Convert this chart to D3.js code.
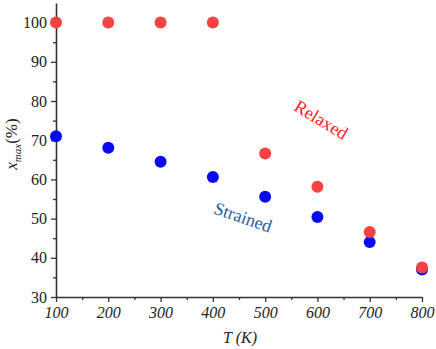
<!DOCTYPE html>
<html>
<head>
<meta charset="utf-8">
<script src="https://cdn.jsdelivr.net/npm/d3@7"></script>
<style>
  body { margin: 0; background: #fff; }
  svg text { font-family: "Liberation Serif", "Tinos", "DejaVu Serif", serif; }
</style>
</head>
<body>
<div id="chart"></div>
<script>
// data
const temps = [100, 200, 300, 400, 500, 600, 700, 800];
const strained = [71.0, 68.1, 64.5, 60.6, 55.6, 50.4, 44.0, 37.0];
const relaxed = [100, 100, 100, 100, 66.6, 58.1, 46.6, 37.5];
const xTicks = [100, 200, 300, 400, 500, 600, 700, 800];
const yTicks = [30, 40, 50, 60, 70, 80, 90, 100];

const width = 436, height = 349;
const margin = { top: 3, right: 14, bottom: 52, left: 56 };
const serif = "'Liberation Serif', Tinos, 'DejaVu Serif', serif";

const xScale = d3.scaleLinear().domain([100, 800]).range([margin.left, width - margin.right]);
const yScale = d3.scaleLinear().domain([30, 105]).range([height - margin.bottom, margin.top]);

const svg = d3.select("#chart").append("svg")
    .attr("width", width)
    .attr("height", height)
    .attr("font-family", serif);

// minor ticks (x)
const xMinor = d3.range(150, 800, 100);
svg.append("g")
    .attr("transform", `translate(0,${yScale(30)})`)
    .call(d3.axisBottom(xScale).tickValues(xMinor).tickSize(3).tickFormat(""))
    .call(g => g.select(".domain").remove())
    .selectAll("line").attr("stroke", "#333").attr("stroke-width", 1.3);

// minor ticks (y)
const yMinor = d3.range(35, 105, 10);
svg.append("g")
    .attr("transform", `translate(${xScale(100)},0)`)
    .call(d3.axisLeft(yScale).tickValues(yMinor).tickSize(3).tickFormat(""))
    .call(g => g.select(".domain").remove())
    .selectAll("line").attr("stroke", "#333").attr("stroke-width", 1.3);

// x axis
const xAxis = svg.append("g")
    .attr("transform", `translate(0,${yScale(30)})`)
    .call(d3.axisBottom(xScale).tickValues(xTicks).tickSize(5).tickSizeOuter(0).tickPadding(5))
    .attr("font-family", serif);
xAxis.select(".domain").attr("stroke", "#333").attr("stroke-width", 1.6);
xAxis.selectAll(".tick line").attr("stroke", "#333").attr("stroke-width", 1.3);
xAxis.selectAll(".tick text")
    .attr("fill", "#222")
    .attr("font-size", 16)
    .attr("font-style", "italic");

// y axis
const yAxis = svg.append("g")
    .attr("transform", `translate(${xScale(100)},0)`)
    .call(d3.axisLeft(yScale).tickValues(yTicks).tickSize(5).tickSizeOuter(0).tickPadding(4))
    .attr("font-family", serif);
yAxis.select(".domain").attr("stroke", "#333").attr("stroke-width", 1.6);
yAxis.selectAll(".tick line").attr("stroke", "#333").attr("stroke-width", 1.3);
yAxis.selectAll(".tick text")
    .attr("fill", "#222")
    .attr("font-size", 16);

// axis titles
svg.append("text")
    .attr("x", (xScale(100) + xScale(800)) / 2 + 1)
    .attr("y", 343)
    .attr("text-anchor", "middle")
    .attr("fill", "#222")
    .attr("font-size", 16)
    .attr("font-style", "italic")
    .text("T (K)");

const yTitle = svg.append("text")
    .attr("transform", "translate(17,144) rotate(-90)")
    .attr("text-anchor", "middle")
    .attr("fill", "#222")
    .attr("font-size", 17);
yTitle.append("tspan").attr("font-style", "italic").text("x");
yTitle.append("tspan").attr("font-style", "italic").attr("font-size", 11).attr("dy", 4).text("max");
yTitle.append("tspan").attr("dy", -4).text("(%)");

// points
const strainedData = temps.map((t, i) => ({ t: t, v: strained[i] }));
const relaxedData = temps.map((t, i) => ({ t: t, v: relaxed[i] }));

svg.append("g")
    .selectAll("circle")
    .data(strainedData)
    .join("circle")
    .attr("cx", d => xScale(d.t))
    .attr("cy", d => yScale(d.v))
    .attr("r", 6)
    .attr("fill", "#0a0af0");

svg.append("g")
    .selectAll("circle")
    .data(relaxedData)
    .join("circle")
    .attr("cx", d => xScale(d.t))
    .attr("cy", d => yScale(d.v))
    .attr("r", 6)
    .attr("fill", "#f54242");

// series labels
svg.append("text")
    .attr("transform", "translate(318,125) rotate(31)")
    .attr("text-anchor", "middle")
    .attr("fill", "#ff1a1a")
    .attr("font-size", 18)
    .text("Relaxed");

svg.append("text")
    .attr("transform", "translate(241,223) rotate(19)")
    .attr("text-anchor", "middle")
    .attr("fill", "#1f5e9e")
    .attr("font-size", 18)
    .text("Strained");
</script>
</body>
</html>
